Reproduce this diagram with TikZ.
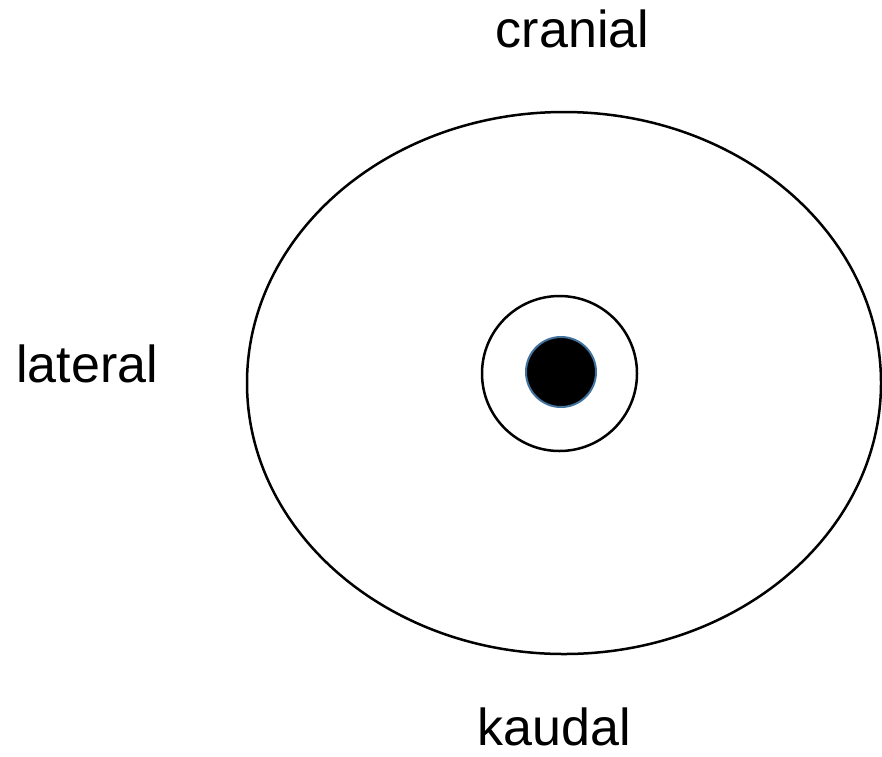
\documentclass[tikz,border=0pt]{standalone}
\usepackage{fontspec}
\setmainfont{Liberation Sans}
\definecolor{dotrim}{HTML}{41719C}
\usetikzlibrary{
  positioning,
  shapes.geometric,
}

\begin{document}
\begin{tikzpicture}[
  x=1pt, y=-1pt,
  ring/.style={
    draw=black, line width=2.5pt, inner sep=0pt,
  },
  core/.style={
    circle, draw=dotrim, fill=black, line width=2pt,
    minimum size=70pt, inner sep=0pt,
  },
  dir/.style={
    font=\fontsize{52}{60}\selectfont, anchor=base, inner sep=0pt,
  },
]
  \useasboundingbox (0,0) rectangle (882,756);

  % Body outline and rings
  \node[ring, ellipse, minimum width=634pt, minimum height=542pt] (body) at (564,383) {};
  \node[ring, circle, minimum size=155pt] (ring) at (559.5,373.5) {};
  \node[core] (dot) at (561,372) {};

  % Directions
  \node[dir] (cranial) at (572.5,47) {cranial};
  \node[dir] (lateral) at (87,382) {lateral};
  \node[dir] (kaudal)  at (554,745) {kaudal};
\end{tikzpicture}
\end{document}
